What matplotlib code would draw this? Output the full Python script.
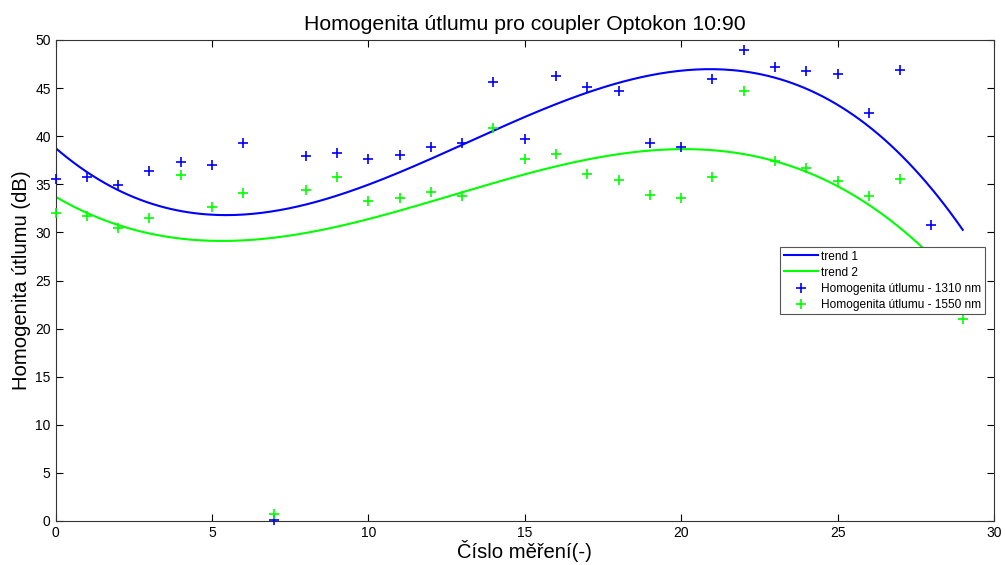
import numpy as np
import matplotlib
matplotlib.use("Agg")
import matplotlib.pyplot as plt

plt.rcParams['font.family'] = ['Liberation Sans', 'DejaVu Sans']

x = list(range(30))
att_1310 = [35.5, 35.8, 34.9, 36.4, 37.3, 37.0, 39.3, 0.1, 37.9, 38.3,
            37.6, 38.0, 38.9, 39.3, 45.6, 39.7, 46.3, 45.1, 44.7, 39.3,
            38.9, 45.9, 49.0, 47.2, 46.8, 46.5, 42.4, 46.9, 30.8, 25.0]
att_1550 = [32.0, 31.7, 30.5, 31.5, 36.0, 32.6, 34.1, 0.7, 34.4, 35.8,
            33.3, 33.6, 34.2, 33.8, 40.9, 37.6, 38.1, 36.1, 35.4, 33.9,
            33.6, 35.8, 44.7, 37.4, 36.7, 35.3, 33.8, 35.6, 26.0, 21.0]

title = "Homogenita útlumu pro coupler Optokon 10:90"
xlabel = "Číslo měření(-)"
ylabel = "Homogenita útlumu (dB)"
legend_labels = ["trend 1", "trend 2",
                 "Homogenita útlumu - 1310 nm", "Homogenita útlumu - 1550 nm"]

xa = np.array(x, dtype=float)
p1 = np.polyfit(xa, att_1310, 3)
p2 = np.polyfit(xa, att_1550, 3)
xf = np.linspace(xa.min(), xa.max(), 300)

fig = plt.figure(figsize=(10.05, 5.65), dpi=100)
ax = fig.add_axes([55.5/1005, 1 - 521/565, (994 - 55.5)/1005, (521 - 40)/565])

ax.plot(xf, np.polyval(p1, xf), color='#0000ff', lw=1.5, label=legend_labels[0])
ax.plot(xf, np.polyval(p2, xf), color='#00ff00', lw=1.5, label=legend_labels[1])
ax.plot(xa, att_1310, '+', color='#0000ff', ms=7, mew=1.2, label=legend_labels[2], clip_on=False, zorder=3)
ax.plot(xa, att_1550, '+', color='#00ff00', ms=7, mew=1.2, label=legend_labels[3], clip_on=False, zorder=3)

ax.set_xlim(0, 30)
ax.set_ylim(0, 50)
ax.set_xticks(range(0, 31, 5))
ax.set_yticks(range(0, 51, 5))
ax.tick_params(direction='in', top=True, right=True, length=5, labelsize=10, width=0.8)
for s in ax.spines.values():
    s.set_linewidth(0.8)
    s.set_color('#333333')

ax.set_title(title, fontsize=15.3, pad=7)
ax.set_xlabel(xlabel, fontsize=14.6, labelpad=0)
ax.set_ylabel(ylabel, fontsize=14.6, labelpad=3)

leg = ax.legend(loc='upper left', bbox_to_anchor=((780 - 55.5)/(994 - 55.5), (521 - 247)/(521 - 40)),
                fontsize=8.6, frameon=True, fancybox=False, borderpad=0.3,
                labelspacing=0.34, handlelength=2.9, handletextpad=0.25, borderaxespad=0)
leg.get_frame().set_edgecolor('#555555')
leg.get_frame().set_linewidth(0.8)
leg.get_frame().set_alpha(1)
leg.set_zorder(5)

fig.savefig("out.png", dpi=100, facecolor='white')
